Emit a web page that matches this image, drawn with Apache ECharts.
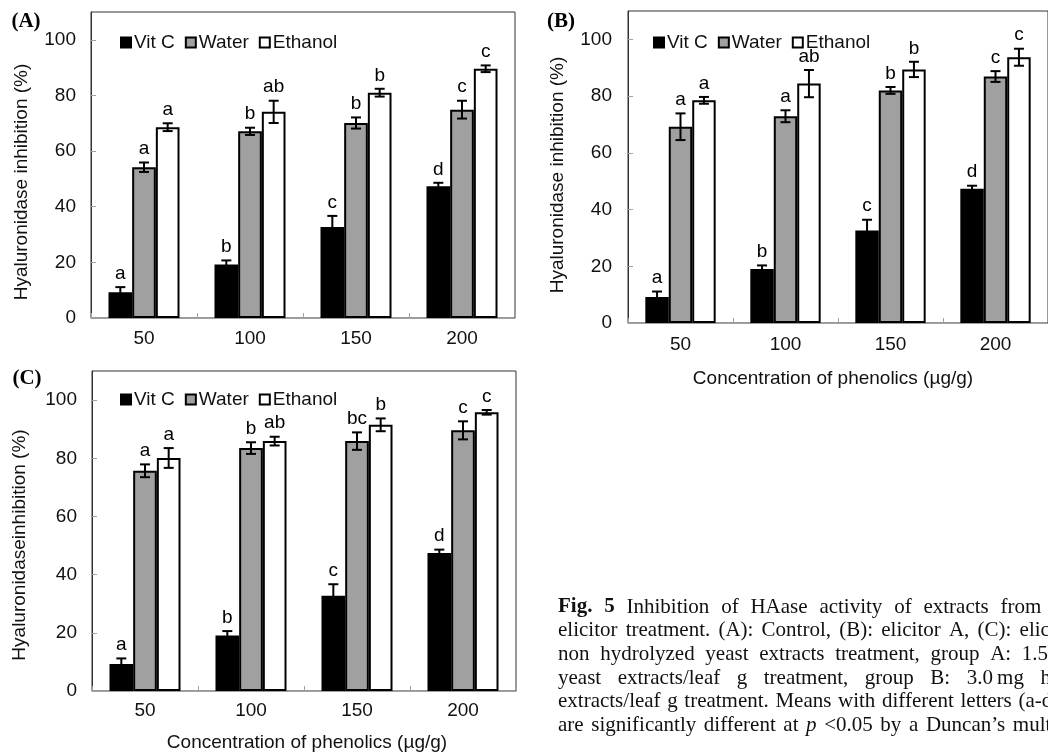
<!DOCTYPE html>
<html>
<head>
<meta charset="utf-8">
<script src="https://cdn.jsdelivr.net/npm/echarts@6/dist/echarts.min.js"></script>
<style>
html,body{margin:0;padding:0;background:#fff;}
#chart{width:1048px;height:753px;}
</style>
</head>
<body>
<div id="chart"></div>
<script>
// ---- data ----
const categories = ['50', '100', '150', '200'];
const seriesNames = ['Vit C', 'Water', 'Ethanol'];
const yTicks = [0, 20, 40, 60, 80, 100];

// Panel A (Control)
const vitcA = [9.3, 19.2, 32.7, 47.4];
const vitcErrA = [1.8, 1.5, 4.0, 1.2];
const waterA = [54.2, 67.1, 70.1, 74.9];
const waterErrA = [1.7, 1.3, 2.0, 3.2];
const ethanolA = [68.6, 74.1, 81.0, 89.6];
const ethanolErrA = [1.4, 4.0, 1.4, 1.2];
const vitcLetA = ['a', 'b', 'c', 'd'];
const waterLetA = ['a', 'b', 'b', 'c'];
const ethanolLetA = ['a', 'ab', 'b', 'c'];

// Panel B (elicitor A)
const vitcB = [9.2, 19.0, 32.6, 47.3];
const vitcErrB = [1.9, 1.3, 3.8, 1.1];
const waterB = [69.2, 72.9, 82.0, 86.9];
const waterErrB = [4.7, 2.1, 1.2, 1.9];
const ethanolB = [78.5, 84.4, 89.4, 93.7];
const ethanolErrB = [1.2, 4.8, 2.7, 3.0];
const vitcLetB = ['a', 'b', 'c', 'd'];
const waterLetB = ['a', 'a', 'b', 'c'];
const ethanolLetB = ['a', 'ab', 'b', 'c'];

// Panel C (elicitor B)
const vitcC = [9.3, 19.1, 32.7, 47.4];
const vitcErrC = [1.9, 1.5, 4.0, 1.2];
const waterC = [75.7, 83.5, 85.9, 89.6];
const waterErrC = [2.2, 2.0, 3.0, 3.1];
const ethanolC = [80.1, 85.9, 91.5, 95.8];
const ethanolErrC = [3.4, 1.5, 2.2, 0.8];
const vitcLetC = ['a', 'b', 'c', 'd'];
const waterLetC = ['a', 'b', 'bc', 'c'];
const ethanolLetC = ['a', 'ab', 'b', 'c'];

const yTitleAB = 'Hyaluronidase inhibition (%)';
const yTitleC = 'Hyaluronidaseinhibition (%)';
const xTitle = 'Concentration of phenolics (\u00b5g/g)';
const captionLines = [
  'Fig. 5 Inhibition of HAase activity of extracts from leaves',
  'elicitor treatment. (A): Control, (B): elicitor A, (C): elicitor B',
  'non hydrolyzed yeast extracts treatment, group A: 1.5\u2009mg hydrolyzed',
  'yeast extracts/leaf g treatment, group B: 3.0\u2009mg hydrolyzed yeast',
  'extracts/leaf g treatment. Means with different letters (a-d) in bars',
  'are significantly different at p <0.05 by a Duncan\u2019s multiple range test'
];
const captionBoldWords = [[0, 1], [], [], [], [], []];
const captionItalicWords = [[], [], [], [], [], [4]];

// ---- styling ----
const FONT = '"Liberation Sans", Arial, sans-serif';
const SERIF = '"Liberation Serif", "Times New Roman", serif';
const CAT_GAP = 0.33;
const colors = ['#000000', '#a0a0a0', '#ffffff'];
const CAP_LEFT = 558;
const CAP_FONT = 21;
const capY = [607, 630.5, 654, 678, 701.5, 725];
const capSpacing = [11.8, 8.2, 10.7, 16.5, 6.6, 7.6];

const panels = [
  { grid: { left: 91, top: 12, width: 424, height: 306 },
    vals: [vitcA, waterA, ethanolA], errs: [vitcErrA, waterErrA, ethanolErrA],
    lets: [vitcLetA, waterLetA, ethanolLetA], labelMargin: 15, xMargin: 11,
    legend: { left: 115, top: 28 } },
  { grid: { left: 628, top: 11, width: 421, height: 312 },
    vals: [vitcB, waterB, ethanolB], errs: [vitcErrB, waterErrB, ethanolErrB],
    lets: [vitcLetB, waterLetB, ethanolLetB], labelMargin: 16, xMargin: 12,
    legend: { left: 648, top: 28 } },
  { grid: { left: 92, top: 371, width: 424, height: 320 },
    vals: [vitcC, waterC, ethanolC], errs: [vitcErrC, waterErrC, ethanolErrC],
    lets: [vitcLetC, waterLetC, ethanolLetC], labelMargin: 15, xMargin: 10,
    legend: { left: 115, top: 385 } }
];

function errRender(errs, letters, k) {
  return function (params, api) {
    const i = params.dataIndex;
    const cat = api.value(0), mean = api.value(1), e = errs[i];
    const base = api.coord([cat, mean]);
    const band = api.size([1, 0])[0];
    const bw = band * (1 - CAT_GAP) / 3;
    const cx = base[0] + (k - 1) * bw;
    const yt = api.coord([cat, mean + e])[1];
    const yb = api.coord([cat, mean - e])[1];
    const cap = 5;
    const st = { stroke: '#000', lineWidth: 2 };
    return {
      type: 'group',
      children: [
        { type: 'line', shape: { x1: cx, y1: yt, x2: cx, y2: yb }, style: st },
        { type: 'line', shape: { x1: cx - cap, y1: yt, x2: cx + cap, y2: yt }, style: st },
        { type: 'line', shape: { x1: cx - cap, y1: yb, x2: cx + cap, y2: yb }, style: st },
        { type: 'text', x: cx, y: yt - 4,
          style: { text: letters[i], align: 'center', verticalAlign: 'bottom',
                   fontSize: 19, fontFamily: FONT, fill: '#000' } }
      ]
    };
  };
}

const grids = [], xAxes = [], yAxes = [], series = [], legends = [];
panels.forEach(function (p, pi) {
  grids.push(Object.assign({ show: true, borderColor: '#333', borderWidth: 1,
                             backgroundColor: 'transparent' }, p.grid));
  xAxes.push({
    type: 'category', gridIndex: pi, data: categories,
    axisLine: { lineStyle: { color: '#a0a0a0', width: 1 } },
    axisTick: { show: true, inside: true, length: 5, lineStyle: { color: '#a0a0a0' } },
    axisLabel: { fontSize: 19, fontFamily: FONT, color: '#111', margin: p.xMargin },
    splitLine: { show: false }
  });
  yAxes.push({
    type: 'value', gridIndex: pi, min: 0, max: 110, interval: 20,
    axisLine: { show: true, lineStyle: { color: '#333', width: 1 } },
    axisTick: { show: true, inside: true, length: 5, lineStyle: { color: '#a0a0a0' } },
    axisLabel: { fontSize: 19, fontFamily: FONT, color: '#111', margin: p.labelMargin,
                 showMaxLabel: false,
                 formatter: function (v) { return yTicks.indexOf(v) >= 0 ? String(v) : ''; } },
    splitLine: { show: false }
  });
  for (let k = 0; k < 3; k++) {
    series.push({
      type: 'bar', name: seriesNames[k], xAxisIndex: pi, yAxisIndex: pi,
      data: p.vals[k], barGap: '0%', barCategoryGap: (CAT_GAP * 100) + '%',
      itemStyle: { color: colors[k], borderColor: '#000', borderWidth: 2 },
      emphasis: { disabled: true }, z: 2
    });
  }
  for (let k = 0; k < 3; k++) {
    series.push({
      type: 'custom', name: 'err' + pi + k, xAxisIndex: pi, yAxisIndex: pi,
      data: p.vals[k].map(function (v, i) { return [i, v]; }),
      renderItem: errRender(p.errs[k], p.lets[k], k), z: 3, silent: true
    });
  }
  legends.push({
    data: seriesNames, left: p.legend.left, top: p.legend.top, orient: 'horizontal',
    icon: 'rect', itemWidth: 10, itemHeight: 10, itemGap: 10,
    textStyle: { fontSize: 19, fontFamily: FONT, color: '#111', padding: [0, 0, 0, -2] },
    selectedMode: false
  });
});

function ytitle(text, x, y) {
  return { type: 'text', x: x, y: y, rotation: Math.PI / 2,
           style: { text: text, align: 'center', verticalAlign: 'middle',
                    fontSize: 19, fontFamily: FONT, fill: '#111' } };
}
function plain(text, x, y, extra) {
  return { type: 'text', x: x, y: y,
           style: Object.assign({ text: text, align: 'center', verticalAlign: 'middle',
                    fontSize: 19, fontFamily: FONT, fill: '#111' }, extra || {}) };
}

const graphics = [
  ytitle(yTitleAB, 22, 182),
  ytitle(yTitleAB, 558, 175),
  ytitle(yTitleC, 20, 545),
  plain(xTitle, 833, 379),
  plain(xTitle, 307, 743),
  plain('(A)', 26, 22, { fontFamily: SERIF, fontWeight: 'bold', fontSize: 21, fill: '#000' }),
  plain('(B)', 561, 22, { fontFamily: SERIF, fontWeight: 'bold', fontSize: 21, fill: '#000' }),
  plain('(C)', 27, 379, { fontFamily: SERIF, fontWeight: 'bold', fontSize: 21, fill: '#000' })
];

// justified caption: words laid out with per-line word spacing
const measCtx = document.createElement('canvas').getContext('2d');
captionLines.forEach(function (line, li) {
  let x = CAP_LEFT;
  line.split(' ').forEach(function (w, wi) {
    const bold = captionBoldWords[li].indexOf(wi) >= 0;
    const ital = captionItalicWords[li].indexOf(wi) >= 0;
    graphics.push({ type: 'text', x: x, y: capY[li],
      style: { text: w, align: 'left', verticalAlign: 'middle', fontSize: CAP_FONT,
               fontFamily: SERIF, fontWeight: bold ? 'bold' : 'normal',
               fontStyle: ital ? 'italic' : 'normal', fill: '#111' } });
    measCtx.font = (ital ? 'italic ' : '') + (bold ? 'bold ' : '') + CAP_FONT + 'px ' + SERIF;
    x += measCtx.measureText(w).width + capSpacing[li];
  });
});

const chart = echarts.init(document.getElementById('chart'), null, { renderer: 'canvas' });
chart.setOption({
  animation: false,
  backgroundColor: '#fff',
  grid: grids, xAxis: xAxes, yAxis: yAxes, series: series, legend: legends,
  graphic: graphics
});
</script>
</body>
</html>
